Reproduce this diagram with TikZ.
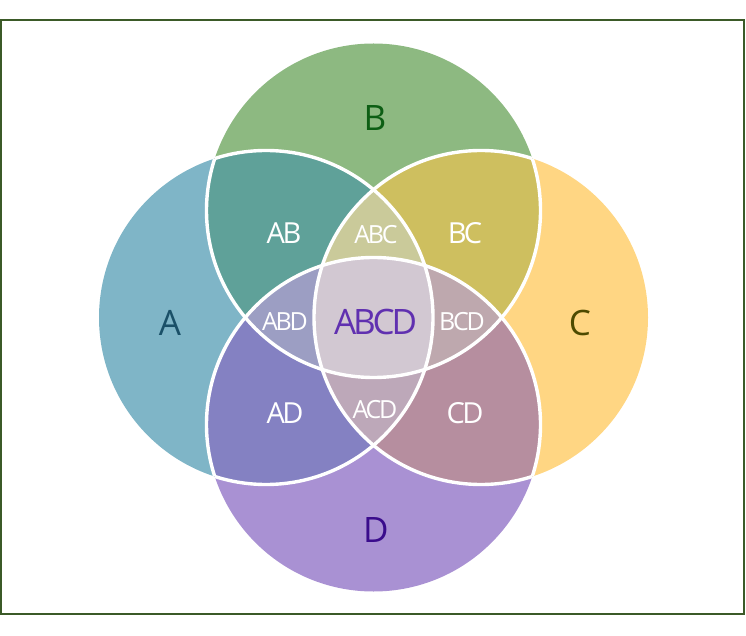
\documentclass[tikz,border=0pt]{standalone}
\usepackage{fontspec}
\setmainfont{Open Sans}[LetterSpace=-9]
\definecolor{cA}{HTML}{7FB5C7}
\definecolor{cB}{HTML}{8DB981}
\definecolor{cC}{HTML}{FFD683}
\definecolor{cD}{HTML}{A991D3}
\definecolor{cAB}{HTML}{5FA199}
\definecolor{cBC}{HTML}{CEBF5F}
\definecolor{cAD}{HTML}{8481C2}
\definecolor{cCD}{HTML}{B68E9F}
\definecolor{cABC}{HTML}{CACA9A}
\definecolor{cABD}{HTML}{9C9EC3}
\definecolor{cBCD}{HTML}{BEA8AE}
\definecolor{cACD}{HTML}{BDA8B9}
\definecolor{cABCD}{HTML}{D2C8D2}
\definecolor{tA}{HTML}{1A5068}
\definecolor{tB}{HTML}{0D5E14}
\definecolor{tC}{HTML}{4D4A00}
\definecolor{tD}{HTML}{3A0C8C}
\definecolor{tABCD}{HTML}{6030B0}
\definecolor{frameclr}{HTML}{3B5A28}
\def\pathA{(266,317.5) circle[radius=167]}
\def\pathB{(373.5,424.5) circle[radius=167]}
\def\pathC{(481,317.5) circle[radius=167]}
\def\pathD{(373.5,210.5) circle[radius=167]}
\tikzset{
  setlabel/.style={font=\fontsize{35}{35}\selectfont},
  pairlabel/.style={text=white,font=\fontsize{29}{29}\selectfont},
  triplabel/.style={text=white,font=\fontsize{25}{25}\selectfont},
  sep/.style={draw=white,line width=3.4pt}
}
\begin{document}
\begin{tikzpicture}[x=1pt,y=1pt]
\useasboundingbox (0,0) rectangle (746,635);
% singles
\fill[cA] \pathA;
\fill[cC] \pathC;
\fill[cB] \pathB;
\fill[cD] \pathD;
% pairs
\begin{scope}\clip \pathA; \fill[cAB] \pathB; \end{scope}
\begin{scope}\clip \pathB; \fill[cBC] \pathC; \end{scope}
\begin{scope}\clip \pathC; \fill[cCD] \pathD; \end{scope}
\begin{scope}\clip \pathA; \fill[cAD] \pathD; \end{scope}
% triples
\begin{scope}\clip \pathA; \clip \pathB; \fill[cABC] \pathC; \end{scope}
\begin{scope}\clip \pathA; \clip \pathB; \fill[cABD] \pathD; \end{scope}
\begin{scope}\clip \pathB; \clip \pathC; \fill[cBCD] \pathD; \end{scope}
\begin{scope}\clip \pathA; \clip \pathC; \fill[cACD] \pathD; \end{scope}
% quadruple
\begin{scope}\clip \pathA; \clip \pathB; \clip \pathC; \fill[cABCD] \pathD; \end{scope}
% white separators
\begin{scope}\clip \pathB \pathC \pathD; \draw[sep] \pathA; \end{scope}
\begin{scope}\clip \pathA \pathC \pathD; \draw[sep] \pathB; \end{scope}
\begin{scope}\clip \pathA \pathB \pathD; \draw[sep] \pathC; \end{scope}
\begin{scope}\clip \pathA \pathB \pathC; \draw[sep] \pathD; \end{scope}
% labels
\node[setlabel,text=tA] (lA) at (170,312) {A};
\node[setlabel,text=tB] (lB) at (375,517) {B};
\node[setlabel,text=tC] (lC) at (580,312) {C};
\node[setlabel,text=tD] (lD) at (376,105) {D};
\node[pairlabel] (lAB) at (284,402) {AB};
\node[pairlabel] (lBC) at (465,402) {BC};
\node[pairlabel] (lAD) at (285,222) {AD};
\node[pairlabel] (lCD) at (465,222) {CD};
\node[triplabel] (lABC) at (376,400) {ABC};
\node[triplabel] (lABD) at (285,313) {ABD};
\node[triplabel] (lBCD) at (462,313) {BCD};
\node[triplabel] (lACD) at (375,225) {ACD};
\node[setlabel,text=tABCD,font=\fontsize{35}{35}\selectfont] (lABCD) at (375.5,313.5) {ABCD};
% frame
\draw[frameclr,line width=2.4pt] (1,615.2) rectangle (744.2,20.8);
\end{tikzpicture}
\end{document}
